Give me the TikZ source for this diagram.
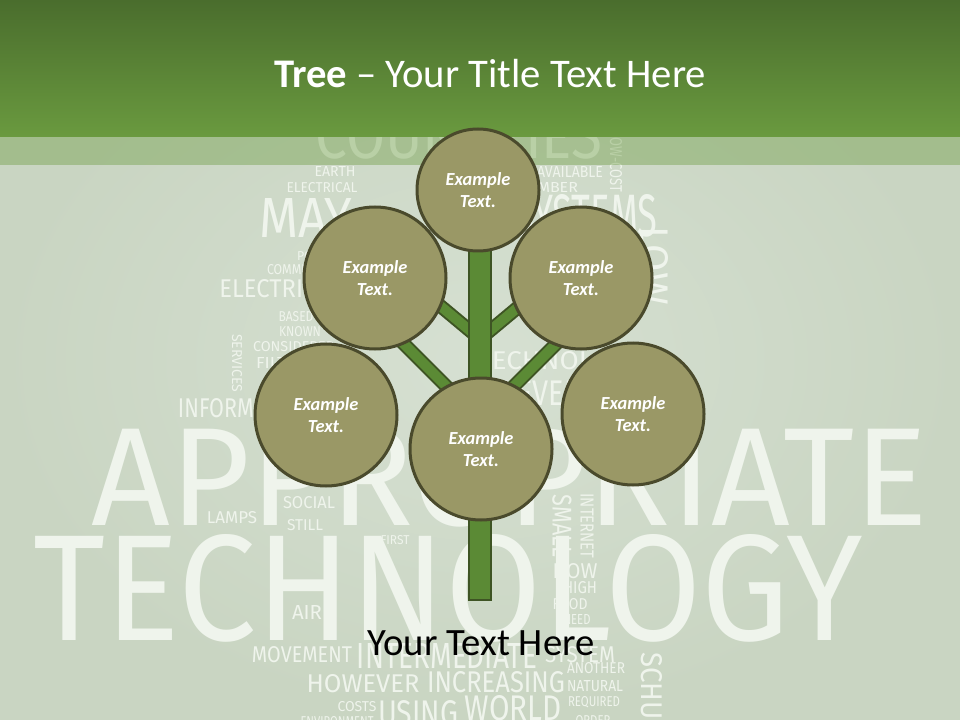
\documentclass[tikz,border=0pt]{standalone}
\usepackage{fontspec}
\usepackage{graphicx}
\setmainfont{Carlito}
\newfontfamily\cloudfont{Fira Sans}
\usetikzlibrary{calc}
\definecolor{headtop}{HTML}{4A6D2D}
\definecolor{headbot}{HTML}{6A9A3F}
\definecolor{paper}{HTML}{C9D5C2}
\definecolor{papermid}{HTML}{D6E0D2}
\definecolor{cloud}{HTML}{EFF4EC}
\definecolor{leaf}{HTML}{9A9866}
\definecolor{leafline}{HTML}{4A4A2C}
\definecolor{bark}{HTML}{5B8A35}
\definecolor{barkline}{HTML}{3E5424}
\newdimen\px \px=0.75pt
\newcommand{\wc}[3]{\resizebox{#1\px}{#2\px}{\cloudfont #3}}

\begin{document}
\begin{tikzpicture}[x=0.75pt,y=-0.75pt,
	word/.style={inner sep=0pt,text=cloud},
	leafnode/.style={circle,draw=leafline,line width=2.25pt,fill=leaf,minimum size=106.5pt,inner sep=0pt,align=center,text=white,font=\fontsize{13.8}{17}\selectfont\bfseries\itshape},
	branch/.style={draw=barkline,line width=1.5pt,double=bark,double distance=7.5pt},
	stem/.style={draw=barkline,line width=1.5pt,fill=bark}
	]
	\useasboundingbox (0,0) rectangle (960,720);
	\clip (0,0) rectangle (960,720);
	\shade[inner color=papermid,outer color=paper] (0,0) rectangle (960,720);
	% word cloud behind the tree
	\foreach \wx/\wy/\ww/\wh/\wr/\wt [count=\i] in {
		510/477/836/98/0/APPROPRIATE,
		448/588/829/106/0/TECHNOLOGY,
		459/136/287/45/0/COUNTRIES,
		335/172/41/10/0/EARTH,
		322/188/71/10/0/ELECTRICAL,
		306/218/93/39/0/MAY,
		570/172/66/11/0/AVAILABLE,
		547/188/62/10/0/NUMBER,
		586/216/143/42/0/SYSTEMS,
		616/162/60/12/-90/LOW-COST,
		654/266/78/28/-90/LOW,
		317/256/40/9/0/POWER,
		301/270/68/10/0/COMMUNITY,
		284/289/129/18/0/ELECTRICITY,
		296/317/35/10/0/BASED,
		300/332/42/10/0/KNOWN,
		294/347/82/10/0/CONSIDERED,
		281/363/50/11/0/FILTER,
		237/363/58/10/-90/SERVICES,
		245/408/134/19/0/INFORMATION,
		560/361/165/18/0/TECHNOLOGY,
		592/393/187/25/0/DEVELOPMENT,
		232/518/50/12/0/LAMPS,
		309/503/52/12/0/SOCIAL,
		305/525/36/11/0/STILL,
		395/540/29/9/0/FIRST,
		307/612/30/14/0/AIR,
		562/526/62/19/-90/SMALL,
		587/526/65/13/-90/INTERNET,
		575/571/45/15/0/NOW,
		580/588/34/12/0/HIGH,
		570/604/35/11/0/FOOD,
		577/619/27/10/0/NEED,
		302/655/100/16/0/MOVEMENT,
		447/656/180/25/0/INTERMEDIATE,
		580/655/70/16/0/SYSTEM,
		596/668/58/11/0/ANOTHER,
		363/684/113/18/0/HOWEVER,
		496/682/138/21/0/INCREASING,
		595/686/56/11/0/NATURAL,
		594/702/52/10/0/REQUIRED,
		513/708/97/25/0/WORLD,
		418/713/80/25/0/USING,
		357/707/39/10/0/COSTS,
		337/722/73/10/0/ENVIRONMENT,
		593/721/35/10/0/ORDER,
		652/737/170/21/-90/SCHUMACHER}
	\node[word,rotate=\wr] (word\i) at (\wx,\wy) {\wc{\ww}{\wh}{\wt}};
	% title band
	\shade[top color=headtop,bottom color=headbot] (0,0) rectangle (960,137);
	\fill[headbot,opacity=0.4] (0,137) rectangle (960,165);
	\node[anchor=base,text=white,font=\fontsize{30.5}{36}\selectfont] (title) at (490,88) {\textbf{Tree} -- Your Title Text Here};
	% trunk and branches
	\coordinate (root) at (480,600);
	\coordinate (crown) at (480,240);
	\coordinate (forkA) at (480,339);
	\coordinate (forkB) at (480,420);
	\coordinate (twigAL) at (420,289);
	\coordinate (twigAR) at (540,289);
	\coordinate (twigBL) at (390,330);
	\coordinate (twigBR) at (570,330);
	\draw[branch] (forkA) -- (twigAL);
	\draw[branch] (forkA) -- (twigAR);
	\draw[branch] (forkB) -- (twigBL);
	\draw[branch] (forkB) -- (twigBR);
	\draw[stem] ($(crown)+(-11,0)$) rectangle ($(root)+(11,0)$);
	% leaves
	\node[leafnode,minimum size=91.5pt] (top) at (478,190) {Example\\Text.};
	\node[leafnode] (upleft) at (375,278) {Example\\Text.};
	\node[leafnode] (upright) at (581,278) {Example\\Text.};
	\node[leafnode] (midleft) at (326,415) {Example\\Text.};
	\node[leafnode] (midright) at (633,414) {Example\\Text.};
	\node[leafnode] (base) at (481,449) {Example\\Text.};
	\node[anchor=base,font=\fontsize{29}{35}\selectfont] (caption) at (481,655) {Your Text Here};
\end{tikzpicture}
\end{document}
